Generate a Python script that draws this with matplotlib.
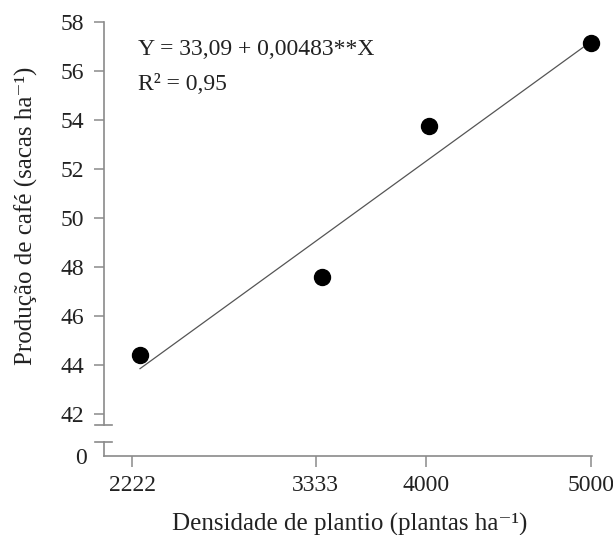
import matplotlib
matplotlib.use("Agg")
import matplotlib.pyplot as plt
from matplotlib.lines import Line2D

plt.rcParams['font.family'] = ['Liberation Serif', 'DejaVu Serif']

# data
densidade = [2270, 3369, 4019, 5000]
producao = [44.4, 47.6, 53.75, 57.15]
linha_x = [2270, 5000]
linha_y = [43.85, 57.2]
xticks = [2222, 3333, 4000, 5000]
yticks = [42, 44, 46, 48, 50, 52, 54, 56, 58]

txt = '#222222'
gray = '#8a8a8a'
fs = 17

fig = plt.figure(figsize=(6.13, 5.35), dpi=100)
W, H = 613, 535
left, right = 104 / W, 591.5 / W
top_up, bot_up = 1 - 22 / H, 1 - 425 / H
top_lo, bot_lo = 1 - 442 / H, 1 - 456 / H

ax = fig.add_axes([left, bot_up, right - left, top_up - bot_up])
axl = fig.add_axes([left, bot_lo, right - left, top_lo - bot_lo], sharex=ax)

ax.plot(linha_x, linha_y, color='#555555', lw=0.9, clip_on=False)
ax.plot(densidade, producao, 'o', color='black', ms=11.5, clip_on=False)

ax.set_xlim(2052, 5003)
ax.set_ylim(41.55, 58)
ax.set_yticks(yticks)
ax.set_yticklabels([str(v) for v in yticks])

for a in (ax, axl):
    a.spines['top'].set_visible(False)
    a.spines['right'].set_visible(False)
    a.spines['left'].set_color(gray)
    a.spines['left'].set_linewidth(1.2)
    a.patch.set_visible(False)
ax.spines['bottom'].set_visible(False)
axl.spines['bottom'].set_color(gray)
axl.spines['bottom'].set_linewidth(1.2)

ax.tick_params(axis='y', direction='out', length=7, width=1.1, color=gray,
               labelsize=fs, labelcolor=txt, pad=7)
ax.tick_params(axis='x', bottom=False, labelbottom=False)

axl.set_ylim(0, 1)
axl.set_yticks([0])
axl.set_yticklabels(['0'])
axl.tick_params(axis='y', length=0, labelsize=fs, labelcolor=txt, pad=12)
axl.set_xticks(xticks)
axl.set_xticklabels([str(v) for v in xticks])
axl.tick_params(axis='x', direction='out', length=8, width=1.1, color=gray,
                labelsize=fs, labelcolor=txt, pad=6)

# break marks
for yy in (bot_up, top_lo):
    fig.add_artist(Line2D([95 / W, 112 / W], [yy, yy], color=gray, lw=1.2))

fig.text(172 / W, 1 - 531 / H, 'Densidade de plantio (plantas ha⁻¹)',
         ha='left', va='baseline', fontsize=18, color=txt)
fig.text(26 / W, 1 - 216 / H, 'Produção de café (sacas ha⁻¹)',
         rotation=90, ha='center', va='center', fontsize=18, color=txt)

ax.text(0.0697, 0.918, 'Y = 33,09 + 0,00483**X', transform=ax.transAxes,
        fontsize=fs, color=txt, va='baseline')
ax.text(0.0697, 0.831, 'R² = 0,95', transform=ax.transAxes,
        fontsize=fs, color=txt, va='baseline')

fig.savefig('out.png', dpi=100, facecolor='white')
